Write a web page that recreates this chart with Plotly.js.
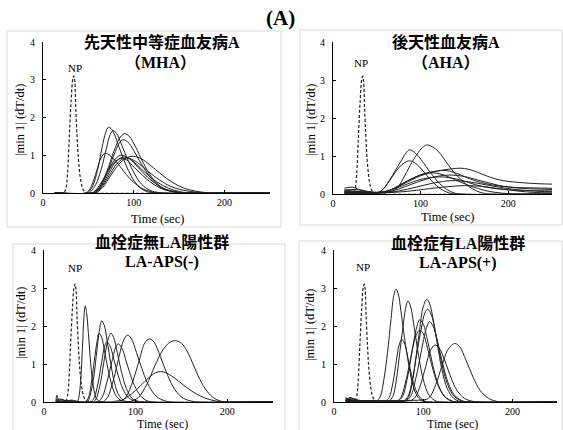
<!DOCTYPE html>
<html>
<head>
<meta charset="utf-8">
<script src="https://cdn.plot.ly/plotly-3.0.1.min.js"></script>
<style>html,body{margin:0;padding:0;background:#fff;}#chart{width:563px;height:430px;}</style>
</head>
<body>
<div id="chart"></div>
<script>
// ---- data (time in sec, value |min 1| dT/dt) ----
const xTickVals = [0, 100, 200];
const yTickVals = [0, 1, 2, 3, 4];

const npCurve = [[13,0],[22,0],[24,0.04],[25.5,0.15],[27,0.5],[29,1.5],[31,2.45],[33,3.05],[34,3.1],[35,2.95],[36,2.3],[37.5,1.5],[39,0.9],[41,0.42],[43,0.17],[45,0.06],[48,0.01],[52,0],[250,0]];

const mhaCurves = [
  [[13,0],[48,0],[51,0.05],[55,0.2],[60,0.6],[65,1.2],[69,1.6],[72,1.74],[76,1.68],[81,1.4],[87,1.0],[94,0.6],[101,0.3],[109,0.1],[117,0.02],[125,0],[250,0]],
  [[13,0],[50,0],[53,0.05],[58,0.22],[64,0.62],[70,1.2],[74,1.55],[77,1.65],[81,1.58],[87,1.25],[94,0.85],[101,0.5],[109,0.22],[118,0.07],[128,0.01],[135,0],[250,0]],
  [[13,0],[54,0],[57,0.04],[62,0.15],[70,0.55],[78,1.1],[85,1.48],[90,1.57],[95,1.5],[102,1.22],[110,0.82],[119,0.44],[129,0.18],[139,0.06],[150,0.01],[160,0],[250,0]],
  [[13,0],[55,0],[58,0.03],[63,0.15],[70,0.5],[78,1.0],[84,1.32],[88,1.41],[93,1.36],[100,1.12],[108,0.78],[118,0.42],[128,0.18],[139,0.06],[150,0.01],[160,0],[250,0]],
  [[13,0],[47,0],[50,0.05],[54,0.22],[59,0.58],[64,0.93],[68,1.05],[72,1.02],[78,0.9],[85,0.7],[92,0.48],[100,0.28],[109,0.12],[118,0.04],[128,0],[250,0]],
  [[13,0],[54,0],[57,0.04],[62,0.15],[70,0.5],[78,0.85],[85,1.0],[92,0.96],[100,0.8],[110,0.54],[120,0.32],[132,0.13],[145,0.04],[158,0],[250,0]],
  [[13,0],[57,0],[60,0.03],[66,0.15],[75,0.48],[85,0.8],[94,0.95],[100,0.97],[108,0.91],[118,0.74],[130,0.5],[142,0.29],[155,0.13],[168,0.05],[180,0.01],[192,0],[250,0]],
  [[13,0],[56,0],[59,0.04],[65,0.2],[73,0.55],[80,0.82],[88,0.95],[95,0.91],[103,0.76],[113,0.53],[125,0.3],[138,0.13],[150,0.04],[163,0],[250,0]],
  [[13,0],[54,0],[57,0.05],[62,0.2],[70,0.5],[78,0.8],[86,0.92],[93,0.86],[100,0.69],[110,0.46],[120,0.26],[132,0.1],[145,0.03],[156,0],[250,0]],
  [[13,0],[57,0],[60,0.04],[66,0.2],[75,0.55],[83,0.82],[91,0.93],[98,0.89],[106,0.77],[116,0.57],[128,0.35],[140,0.18],[155,0.07],[170,0.02],[182,0],[250,0]]
];

const ahaCurves = [
  [[13,0.05],[30,0.05],[50,0.03],[65,0.05],[73,0.15],[80,0.4],[88,0.75],[96,1.05],[102,1.22],[107,1.29],[113,1.25],[121,1.1],[129,0.85],[137,0.6],[146,0.38],[155,0.2],[164,0.08],[172,0.02],[180,0],[250,0]],
  [[13,0.1],[25,0.12],[40,0.06],[52,0.04],[58,0.15],[65,0.38],[72,0.65],[79,0.92],[84,1.1],[87,1.16],[91,1.13],[98,0.98],[106,0.73],[114,0.48],[122,0.27],[130,0.12],[138,0.03],[146,0],[250,0]],
  [[13,0.03],[50,0.03],[57,0.12],[64,0.33],[71,0.57],[78,0.76],[86,0.87],[91,0.85],[98,0.73],[106,0.52],[114,0.31],[122,0.15],[130,0.05],[140,0],[250,0]],
  [[13,0.15],[22,0.18],[30,0.12],[45,0.05],[55,0.05],[65,0.1],[75,0.2],[85,0.32],[95,0.43],[105,0.52],[115,0.58],[125,0.63],[135,0.66],[145,0.68],[155,0.65],[165,0.57],[175,0.48],[185,0.4],[195,0.35],[205,0.32],[220,0.29],[235,0.27],[250,0.26]],
  [[13,0.08],[30,0.06],[50,0.04],[60,0.06],[70,0.15],[80,0.28],[90,0.4],[100,0.5],[110,0.57],[120,0.61],[128,0.62],[138,0.57],[150,0.46],[162,0.35],[175,0.27],[190,0.21],[210,0.17],[230,0.16],[250,0.15]],
  [[13,0.02],[55,0.03],[65,0.1],[75,0.22],[85,0.35],[95,0.46],[105,0.54],[112,0.56],[122,0.53],[132,0.45],[145,0.32],[158,0.2],[172,0.1],[186,0.04],[200,0.01],[215,0],[250,0]],
  [[13,0.1],[40,0.05],[60,0.05],[75,0.13],[90,0.26],[105,0.38],[120,0.47],[135,0.5],[150,0.46],[165,0.37],[180,0.28],[195,0.2],[215,0.15],[235,0.13],[250,0.12]],
  [[13,0.05],[50,0.04],[65,0.1],[80,0.22],[95,0.35],[110,0.43],[125,0.45],[140,0.4],[155,0.3],[170,0.2],[190,0.13],[210,0.1],[230,0.09],[250,0.08]],
  [[13,0.03],[55,0.03],[75,0.08],[95,0.18],[115,0.29],[135,0.35],[155,0.32],[175,0.24],[195,0.16],[215,0.1],[235,0.07],[250,0.06]],
  [[13,0.06],[50,0.03],[80,0.06],[110,0.14],[130,0.19],[150,0.22],[170,0.2],[190,0.14],[210,0.08],[230,0.04],[250,0.03]]
];

const laNegCurves = [
  [[13,0],[14,0.18],[16,0.05],[20,0.06],[24,0.02],[30,0.04],[34,0],[36,0],[38,0.12],[40,0.55],[42,1.45],[43.5,2.2],[45,2.53],[46.5,2.35],[48.5,1.8],[51,1.0],[54,0.4],[57,0.1],[60,0.02],[65,0],[250,0]],
  [[13,0.05],[18,0.08],[24,0.03],[30,0.05],[40,0],[47,0],[50,0.15],[54,0.6],[57,1.2],[60,1.8],[63,2.14],[66,2.0],[69,1.6],[73,1.0],[77,0.5],[82,0.17],[88,0.03],[95,0],[250,0]],
  [[13,0],[44,0],[46,0.02],[49,0.15],[52,0.55],[55,1.1],[58,1.6],[60,1.81],[63,1.7],[66,1.35],[70,0.85],[74,0.45],[79,0.15],[85,0.03],[92,0],[250,0]],
  [[13,0],[53,0],[55,0.02],[58,0.15],[62,0.55],[66,1.15],[70,1.65],[73,1.81],[76,1.7],[80,1.3],[85,0.75],[90,0.35],[96,0.1],[103,0.02],[110,0],[250,0]],
  [[13,0.03],[20,0.05],[28,0.02],[40,0],[50,0],[52,0.02],[55,0.12],[59,0.5],[63,1.05],[66,1.45],[68.5,1.58],[72,1.48],[76,1.15],[81,0.7],[86,0.35],[92,0.12],[100,0.02],[108,0],[250,0]],
  [[13,0],[58,0],[60,0.02],[64,0.15],[69,0.55],[74,1.05],[78,1.42],[81,1.53],[85,1.42],[90,1.05],[96,0.6],[102,0.28],[109,0.08],[118,0],[250,0]],
  [[13,0],[63,0],[66,0.03],[70,0.15],[76,0.6],[82,1.2],[87,1.63],[91,1.76],[95,1.68],[101,1.3],[108,0.8],[115,0.4],[123,0.14],[132,0.03],[140,0],[250,0]],
  [[13,0],[82,0],[85,0.03],[90,0.15],[97,0.55],[104,1.1],[110,1.55],[115,1.66],[120,1.58],[127,1.2],[135,0.7],[143,0.32],[152,0.1],[162,0.02],[170,0],[250,0]],
  [[13,0],[92,0],[96,0.03],[103,0.12],[112,0.45],[121,0.95],[130,1.38],[138,1.58],[145,1.61],[152,1.5],[160,1.15],[168,0.7],[176,0.35],[184,0.13],[192,0.03],[200,0],[250,0]],
  [[13,0],[72,0],[77,0.02],[85,0.05],[95,0.2],[105,0.42],[115,0.65],[122,0.77],[127,0.8],[133,0.77],[142,0.64],[152,0.45],[163,0.26],[175,0.11],[187,0.03],[198,0],[250,0]]
];

const laPosCurves = [
  [[13,0.12],[16,0.08],[20,0.1],[25,0.05],[30,0.04],[45,0.02],[48,0.02],[52,0.15],[56,0.6],[60,1.3],[64,2.2],[67,2.8],[69.5,2.97],[72,2.85],[75,2.4],[79,1.7],[84,0.95],[89,0.4],[95,0.1],[102,0.01],[110,0],[250,0]],
  [[13,0.05],[18,0.12],[24,0.06],[35,0.03],[60,0.02],[62,0.03],[66,0.15],[70,0.6],[74,1.35],[78,2.1],[81,2.55],[83,2.66],[86,2.5],[90,1.95],[95,1.2],[100,0.6],[106,0.2],[113,0.04],[120,0],[250,0]],
  [[13,0.02],[40,0.02],[78,0.02],[80,0.03],[84,0.15],[88,0.55],[92,1.2],[96,1.9],[100,2.5],[104,2.7],[107,2.6],[111,2.2],[116,1.5],[121,0.85],[127,0.35],[134,0.1],[142,0.01],[150,0],[250,0]],
  [[13,0.08],[20,0.05],[30,0.03],[76,0.02],[78,0.03],[83,0.15],[88,0.6],[93,1.3],[98,1.95],[102,2.35],[105,2.44],[109,2.3],[114,1.8],[120,1.1],[126,0.55],[133,0.2],[141,0.05],[150,0],[250,0]],
  [[13,0.03],[70,0.02],[72,0.03],[77,0.15],[82,0.6],[87,1.25],[92,1.9],[96,2.16],[100,2.05],[105,1.6],[111,0.95],[117,0.45],[124,0.15],[132,0.03],[140,0],[250,0]],
  [[13,0.1],[17,0.06],[22,0.08],[30,0.03],[78,0.02],[81,0.04],[86,0.15],[92,0.65],[98,1.35],[103,1.9],[107,2.11],[111,2.0],[116,1.6],[122,1.0],[128,0.5],[135,0.18],[143,0.04],[150,0],[250,0]],
  [[13,0.02],[68,0.02],[71,0.03],[75,0.12],[80,0.5],[85,1.05],[90,1.6],[94,1.85],[96,1.89],[100,1.8],[105,1.4],[111,0.85],[117,0.42],[124,0.14],[132,0.02],[140,0],[250,0]],
  [[13,0.06],[25,0.04],[56,0.03],[59,0.04],[62,0.12],[66,0.5],[70,1.1],[73,1.5],[76,1.65],[79,1.55],[83,1.15],[88,0.6],[93,0.25],[99,0.06],[106,0],[250,0]],
  [[13,0.03],[60,0.03],[83,0.03],[86,0.04],[91,0.12],[97,0.45],[103,0.95],[108,1.35],[113,1.5],[118,1.42],[124,1.1],[131,0.65],[138,0.3],[146,0.1],[155,0.02],[165,0],[250,0]],
  [[13,0.04],[50,0.03],[80,0.04],[98,0.05],[102,0.06],[107,0.12],[114,0.45],[121,0.95],[127,1.35],[132,1.5],[136,1.54],[141,1.45],[148,1.1],[156,0.65],[164,0.3],[173,0.1],[182,0.02],[190,0],[250,0]]
];

const panelTitles = [
  ['<b>先天性中等症血友病A</b>', '<b>（MHA）</b>'],
  ['<b>後天性血友病A</b>', '<b>（AHA）</b>'],
  ['<b>血栓症無LA陽性群</b>', '<b>LA-APS(-)</b>'],
  ['<b>血栓症有LA陽性群</b>', '<b>LA-APS(+)</b>']
];
const figureLabel = '<b>(A)</b>';
const npLabel = 'NP';
const xTitle = 'Time (sec)';
const yTitle = '|min 1| (dT/dt)';

// ---- layout geometry (pixels) ----
const W = 563, H = 430;
const px = v => v / W;
const py = v => 1 - v / H;

const panels = [
  {curves: mhaCurves, xd: [43, 270], yd: [193, 42], box: [7, 31, 281, 227],
   t1: [162, 42], t2: [160, 62], np: [75, 68], xt: [157, 219], yt: [20, 120]},
  {curves: ahaCurves, xd: [333, 552], yd: [194, 42], box: [300, 30, 562, 225],
   t1: [446, 42], t2: [446, 62], np: [361, 63], xt: [447, 217], yt: [311, 120]},
  {curves: laNegCurves, xd: [44, 273], yd: [402, 250], box: [13, 244, 285, 440],
   t1: [162, 242], t2: [162, 262], np: [75, 268], xt: [162, 423.5], yt: [21, 323]},
  {curves: laPosCurves, xd: [334, 557], yd: [402, 250], box: [299, 241, 562, 440],
   t1: [458, 243], t2: [458, 263], np: [363, 267], xt: [452, 423.5], yt: [310, 325]}
];

const serif = 'Liberation Serif, Times New Roman, serif';
const titleFamily = 'Liberation Serif, "Noto Sans CJK JP", serif';

const traces = [];
const layout = {
  width: W, height: H,
  margin: {l: 0, r: 0, t: 0, b: 0},
  paper_bgcolor: '#ffffff', plot_bgcolor: 'rgba(0,0,0,0)',
  showlegend: false,
  shapes: [], annotations: []
};

panels.forEach((p, i) => {
  const n = i === 0 ? '' : String(i + 1);
  const xa = 'x' + n, ya = 'y' + n;
  const axCommon = {
    showgrid: false, zeroline: false, showline: true, linecolor: '#000', linewidth: 1,
    ticks: 'inside', ticklen: 3, tickcolor: '#000', tickwidth: 1,
    tickfont: {family: serif, size: 10, color: '#000'}, fixedrange: true
  };
  layout['xaxis' + n] = Object.assign({}, axCommon, {
    domain: [px(p.xd[0]), px(p.xd[1])], range: [0, 250], tickvals: xTickVals,
    anchor: ya, ticklabelstandoff: 0
  });
  layout['yaxis' + n] = Object.assign({}, axCommon, {
    domain: [py(p.yd[0]), py(p.yd[1])], range: [0, 4], tickvals: yTickVals,
    anchor: xa, ticklabelstandoff: 5
  });

  p.curves.forEach(c => {
    traces.push({
      type: 'scatter', mode: 'lines', xaxis: xa, yaxis: ya,
      x: c.map(d => d[0]), y: c.map(d => d[1]),
      line: {color: '#222', width: 1, shape: 'spline', smoothing: 1},
      hoverinfo: 'skip'
    });
  });
  traces.push({
    type: 'scatter', mode: 'lines', xaxis: xa, yaxis: ya,
    x: npCurve.map(d => d[0]), y: npCurve.map(d => d[1]),
    line: {color: '#222', width: 1.2, dash: '3px,2px', shape: 'spline', smoothing: 1},
    hoverinfo: 'skip'
  });

  layout.shapes.push({
    type: 'rect', xref: 'paper', yref: 'paper',
    x0: px(p.box[0]), x1: px(p.box[2]), y0: py(p.box[3]), y1: py(p.box[1]),
    line: {color: '#d9d9d9', width: 1}, fillcolor: 'rgba(0,0,0,0)', layer: 'below'
  });

  const ann = (pos, text, font, extra) => Object.assign({
    xref: 'paper', yref: 'paper', x: px(pos[0]), y: py(pos[1]),
    xanchor: 'center', yanchor: 'middle', showarrow: false, text: text, font: font
  }, extra || {});
  layout.annotations.push(ann(p.t1, panelTitles[i][0], {family: titleFamily, size: 16, color: '#000'}));
  layout.annotations.push(ann(p.t2, panelTitles[i][1], {family: titleFamily, size: 16, color: '#000'}));
  layout.annotations.push(ann(p.np, npLabel, {family: serif, size: 11, color: '#000'}));
  layout.annotations.push(ann(p.xt, xTitle, {family: serif, size: i >= 2 ? 12 : 12.5, color: '#000'}));
  layout.annotations.push(ann(p.yt, yTitle, {family: serif, size: 12.5, color: '#000'}, {textangle: -90}));
});

layout.annotations.push({
  xref: 'paper', yref: 'paper', x: px(280), y: py(18), xanchor: 'center', yanchor: 'middle',
  showarrow: false, text: figureLabel, font: {family: serif, size: 21, color: '#000'}
});

Plotly.newPlot('chart', traces, layout, {displayModeBar: false, staticPlot: true});
</script>
</body>
</html>
